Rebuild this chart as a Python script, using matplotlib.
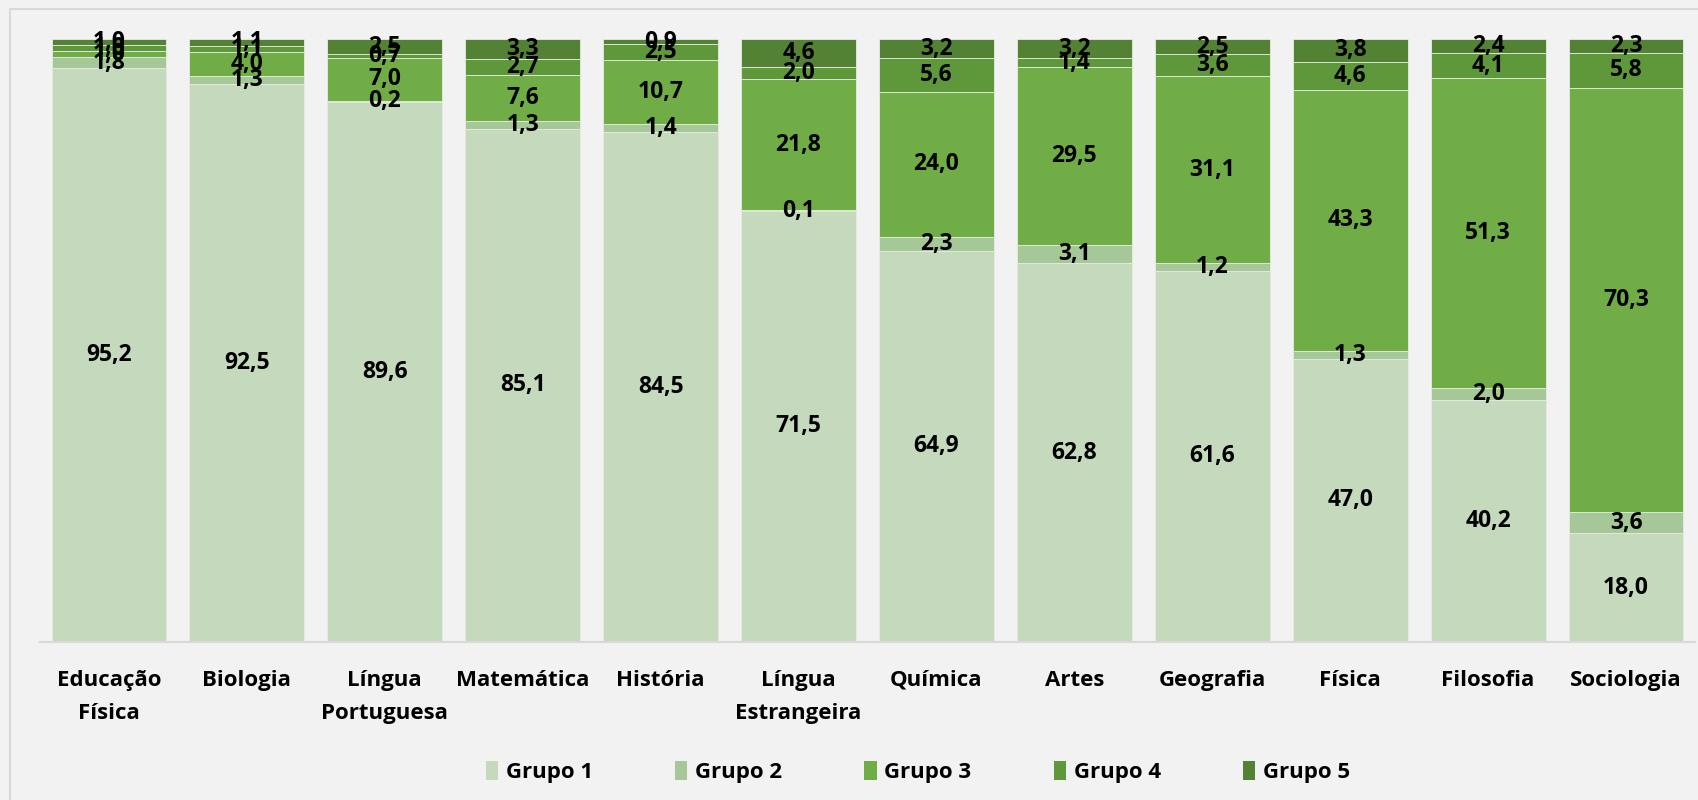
import matplotlib
matplotlib.use('Agg')
import matplotlib.pyplot as plt
from matplotlib.patches import Patch, Rectangle
import numpy as np

plt.rcParams['font.family'] = ['Open Sans', 'DejaVu Sans']
plt.rcParams['font.weight'] = 'bold'

disciplinas = ['Educação\nFísica', 'Biologia', 'Língua\nPortuguesa', 'Matemática', 'História',
               'Língua\nEstrangeira', 'Química', 'Artes', 'Geografia', 'Física', 'Filosofia', 'Sociologia']
grupo1 = [95.2, 92.5, 89.6, 85.1, 84.5, 71.5, 64.9, 62.8, 61.6, 47.0, 40.2, 18.0]
grupo2 = [1.8, 1.3, 0.2, 1.3, 1.4, 0.1, 2.3, 3.1, 1.2, 1.3, 2.0, 3.6]
grupo3 = [1.0, 4.0, 7.0, 7.6, 10.7, 21.8, 24.0, 29.5, 31.1, 43.3, 51.3, 70.3]
grupo4 = [1.0, 1.1, 0.7, 2.7, 2.5, 2.0, 5.6, 1.4, 3.6, 4.6, 4.1, 5.8]
grupo5 = [1.0, 1.1, 2.5, 3.3, 0.9, 4.6, 3.2, 3.2, 2.5, 3.8, 2.4, 2.3]

series = [grupo1, grupo2, grupo3, grupo4, grupo5]
nomes = ['Grupo 1', 'Grupo 2', 'Grupo 3', 'Grupo 4', 'Grupo 5']
cores = ['#C5D9BC', '#A6C797', '#70AD47', '#5E983B', '#548235']

fig = plt.figure(figsize=(16.99, 8), dpi=100)
fig.patch.set_facecolor('#F2F2F2')
ax = fig.add_axes([40 / 1699, 1 - 642 / 800, 1655 / 1699, 603 / 800])
ax.set_facecolor('#F2F2F2')

x = np.arange(len(disciplinas))
base = np.zeros(len(disciplinas))
for vals, nome, cor in zip(series, nomes, cores):
    vals = np.array(vals)
    ax.bar(x, vals, bottom=base, width=0.833, color=cor, edgecolor='#E4EDE0', linewidth=0.6)
    for xi, b, v in zip(x, base, vals):
        ax.text(xi, b + v / 2, f"{v:.1f}".replace('.', ','), ha='center', va='center',
                fontsize=16.5, fontweight='bold', color='black')
    base += vals

ax.set_xlim(-0.5, len(disciplinas) - 0.5)
ax.set_ylim(0, 100)
ax.set_yticks([])
ax.set_xticks(x)
ax.set_xticklabels(disciplinas, fontsize=16, fontweight='bold', linespacing=1.75)
ax.tick_params(axis='x', length=0, pad=20)
for s in ['top', 'right', 'left']:
    ax.spines[s].set_visible(False)
ax.spines['bottom'].set_color('#D9D9D9')
ax.spines['bottom'].set_linewidth(1.5)

handles = [Patch(facecolor=c, label=n) for c, n in zip(cores, nomes)]
fig.legend(handles=handles, loc='center', bbox_to_anchor=(918 / 1699, 1 - 772 / 800), ncol=5,
           frameon=False, fontsize=16, handlelength=0.55, handleheight=0.9,
           handletextpad=0.35, columnspacing=3.7)

fig.patches.append(Rectangle((10 / 1699, -0.1), 2, (800 - 9) / 800 + 0.1, transform=fig.transFigure,
                             fill=False, edgecolor='#D9D9D9', linewidth=1.5))

fig.savefig('out.png', dpi=100, facecolor=fig.get_facecolor())
